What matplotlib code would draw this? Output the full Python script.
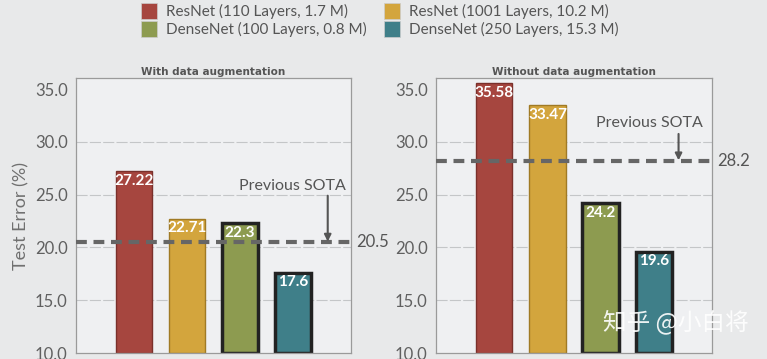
import matplotlib
matplotlib.use("Agg")
import matplotlib.pyplot as plt
from matplotlib.patches import Patch

plt.rcParams['font.family'] = ['Lato', 'DejaVu Sans']

models = ["ResNet (110 Layers, 1.7 M)", "ResNet (1001 Layers, 10.2 M)",
          "DenseNet (100 Layers, 0.8 M)", "DenseNet (250 Layers, 15.3 M)"]
with_aug = [27.22, 22.71, 22.3, 17.6]
without_aug = [35.58, 33.47, 24.2, 19.6]
with_labels = ["27.22", "22.71", "22.3", "17.6"]
without_labels = ["35.58", "33.47", "24.2", "19.6"]
sota_with = 20.5
sota_without = 28.2
titles = ["With data augmentation", "Without data augmentation"]
yticks = [10, 15, 20, 25, 30, 35]

colors = ["#A6463F", "#D3A53D", "#8D9B50", "#3F7F89"]
edges = ["#7a302b", "#a07a25", "#222222", "#222222"]
edge_w = [1.0, 1.0, 2.5, 2.5]

W, H = 767, 359
fig = plt.figure(figsize=(W / 100, H / 100), dpi=100)
fig.patch.set_facecolor("#E8E9EA")

ax_bottom = (H - 353) / H
ax_h = (353 - 78) / H
axes = [fig.add_axes([76 / W, ax_bottom, 275 / W, ax_h]),
        fig.add_axes([436 / W, ax_bottom, 276 / W, ax_h])]

datasets = [(with_aug, with_labels, sota_with), (without_aug, without_labels, sota_without)]
sota_text_pos = [(2.99, 25.85, 3.66, 24.9), (2.92, 31.8, 3.47, 30.75)]

x = list(range(len(models)))
for i, ax in enumerate(axes):
    vals, labs, sota = datasets[i]
    ax.set_facecolor("#EFF0F2")
    ax.set_xlim(-1.1, 4.1)
    ax.set_ylim(10, 36.05)
    for yv in [15, 20, 25, 30]:
        ax.axhline(yv, color="#c4c6c8", lw=0.8, ls=(0, (10, 2)), zorder=0)
    for xi, v, c, ec, ew, lab in zip(x, vals, colors, edges, edge_w, labs):
        ax.bar(xi, v - 10, bottom=10, width=0.68, color=c, edgecolor=ec, linewidth=ew, zorder=2)
        ax.text(xi, v - 0.25, lab, ha="center", va="top", color="white",
                fontsize=11, fontweight="bold", zorder=4)
    ax.axhline(sota, color="#666666", lw=3, ls=(0, (2.6, 1.6)), zorder=3)
    ax.text(1.02, sota, f"{sota}", transform=ax.get_yaxis_transform(),
            ha="left", va="center", fontsize=12, color="#555555")
    tx, ty, axx, ays = sota_text_pos[i]
    ax.text(tx, ty, "Previous SOTA", ha="center", va="center", fontsize=11.5, color="#555555")
    ax.annotate("", xy=(axx, sota + 0.05), xytext=(axx, ays),
                arrowprops=dict(arrowstyle="-|>", color="#555555", lw=1.5,
                                mutation_scale=10, shrinkA=0, shrinkB=0), zorder=5)
    ax.set_yticks(yticks)
    ax.set_yticklabels([f"{t:.1f}" for t in yticks], fontsize=12, color="#606060")
    ax.set_xticks([])
    ax.tick_params(axis="y", length=0, pad=6)
    for s in ax.spines.values():
        s.set_color("#9a9a9a")
        s.set_linewidth(0.9)
    ax.set_title(titles[i], fontsize=7.5, fontweight="bold", color="#555555",
                 family="DejaVu Sans", pad=2)

axes[0].set_ylabel("Test Error (%)", fontsize=13, color="#707070", labelpad=4)

handles = [Patch(facecolor=c, edgecolor="#cccccc", linewidth=0.5) for c in colors]
order = [0, 2, 1, 3]
fig.legend([handles[k] for k in order], [models[k] for k in order], ncol=2,
           loc="upper center", bbox_to_anchor=(0.4954, 1.03), frameon=False,
           fontsize=11, handlelength=1.05, handleheight=1.2, handletextpad=0.6,
           columnspacing=1.1, labelspacing=0.15, labelcolor="#555555")

fig.text(603 / W, 1 - 322 / H, "知乎 @小白将", fontsize=17, color="white",
         family=["Noto Sans CJK SC", "DejaVu Sans"], va="center", ha="left", alpha=0.9)

fig.savefig("out.png", dpi=100, facecolor=fig.get_facecolor())
